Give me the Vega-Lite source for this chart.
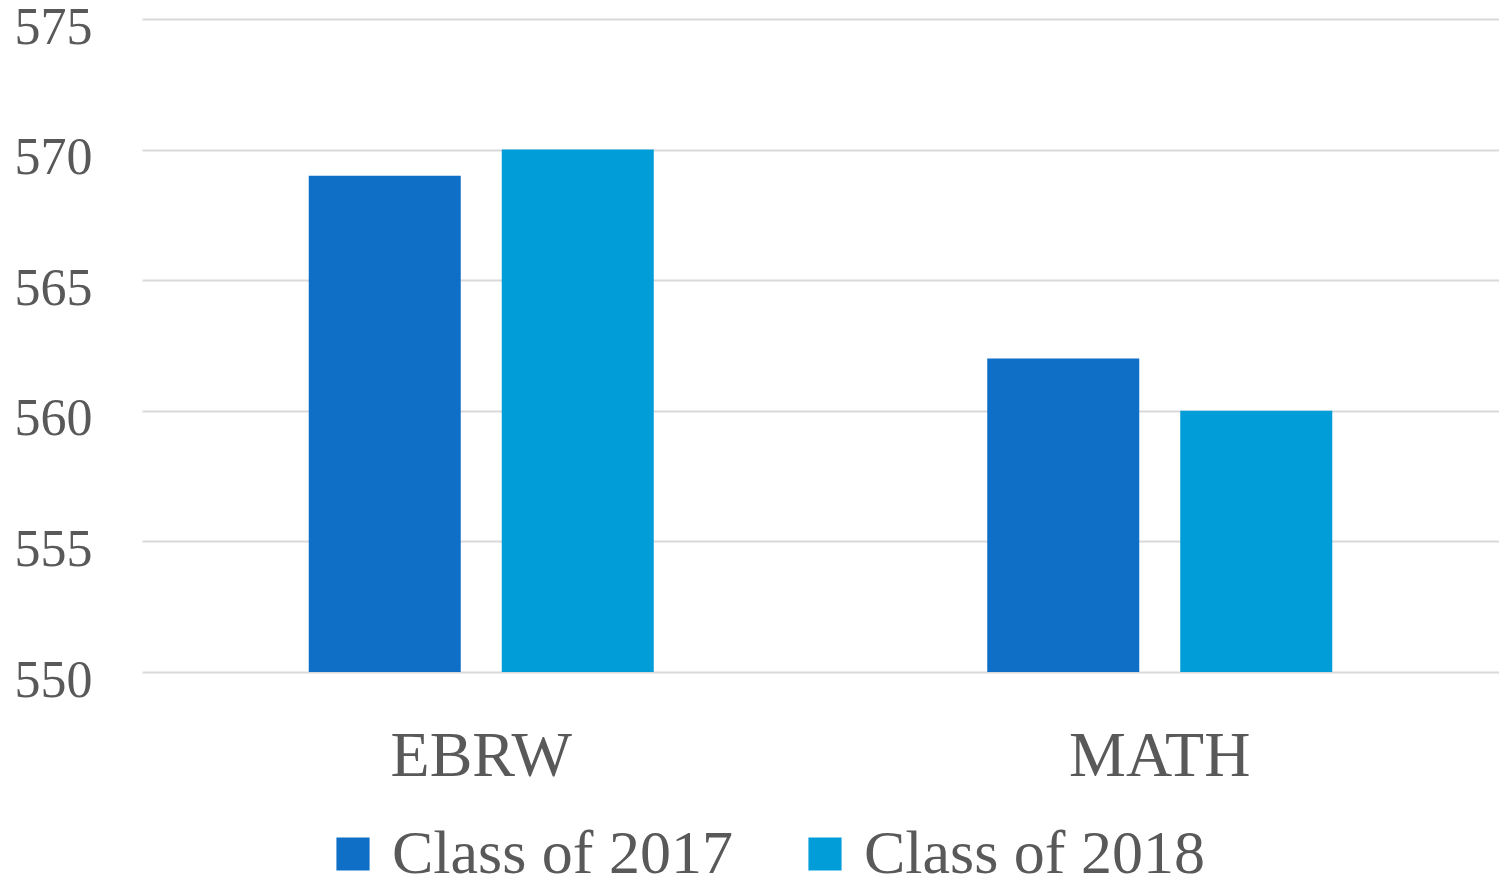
{
  "$schema": "https://vega.github.io/schema/vega-lite/v6.json",
  "width": 1357,
  "height": 653,
  "autosize": {"type": "none"},
  "padding": {"left": 142, "top": 19, "right": 0, "bottom": 216},
  "background": "#ffffff",
  "config": {
    "view": {"stroke": null},
    "font": "Liberation Serif"
  },
  "data": {
    "values": [
      {"subject": "EBRW", "cls": "Class of 2017", "score": 569},
      {"subject": "EBRW", "cls": "Class of 2018", "score": 570},
      {"subject": "MATH", "cls": "Class of 2017", "score": 562},
      {"subject": "MATH", "cls": "Class of 2018", "score": 560}
    ]
  },
  "mark": {"type": "bar", "clip": true},
  "encoding": {
    "x": {
      "field": "subject",
      "type": "nominal",
      "sort": ["EBRW", "MATH"],
      "scale": {"paddingInner": 0, "paddingOuter": 0},
      "axis": {
        "title": null,
        "labelAngle": 0,
        "domain": false,
        "ticks": false,
        "labelFontSize": 64,
        "labelColor": "#595959",
        "labelPadding": 103,
        "labelBaseline": "alphabetic",
        "labelLimit": 0
      }
    },
    "xOffset": {
      "field": "cls",
      "type": "nominal",
      "scale": {"paddingInner": 0.2124, "paddingOuter": 0.864}
    },
    "y": {
      "field": "score",
      "type": "quantitative",
      "scale": {"domain": [550, 575], "zero": false, "nice": false},
      "axis": {
        "title": null,
        "values": [550, 555, 560, 565, 570, 575],
        "domain": false,
        "ticks": false,
        "gridColor": "#d9d9d9",
        "gridWidth": 2,
        "labelFontSize": 52,
        "labelColor": "#595959",
        "labelPadding": 50,
        "labelOffset": 8
      }
    },
    "color": {
      "field": "cls",
      "type": "nominal",
      "scale": {"domain": ["Class of 2017", "Class of 2018"], "range": ["#0F6FC6", "#009DD9"]},
      "legend": {
        "title": null,
        "orient": "none",
        "direction": "horizontal",
        "legendX": 180,
        "legendY": 804,
        "symbolType": "square",
        "symbolSize": 1100,
        "symbolStrokeWidth": 0,
        "labelFontSize": 62,
        "labelColor": "#595959",
        "labelOffset": 8,
        "columnPadding": 61,
        "labelLimit": 0
      }
    }
  }
}
